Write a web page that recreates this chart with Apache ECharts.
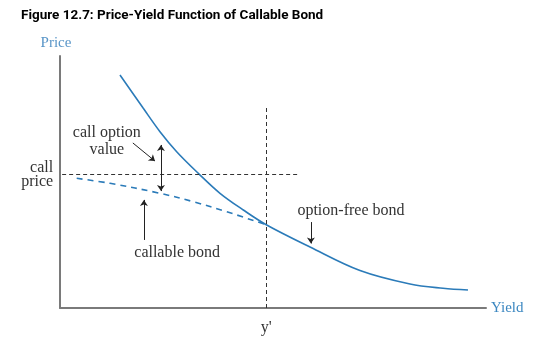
<!DOCTYPE html>
<html><head><meta charset="utf-8">
<script src="https://cdn.jsdelivr.net/npm/echarts@6/dist/echarts.min.js"></script>
<style>html,body{margin:0;padding:0;background:#fff}#c{width:541px;height:341px}</style>
</head><body><div id="c"></div>
<script>
// Option-free bond curve (yield, price) in abstract units 0..100
const optionFreeX = [14.08, 19.55, 23.47, 27.39, 32.46, 37.56, 43.03, 48.52, 58.69, 70.42, 82.16, 89.91, 95.77];
const optionFreeY = [92.46, 79.25, 69.96, 62.02, 53.45, 45.52, 38.89, 32.94, 24.21, 14.88, 9.52, 7.82, 7.14];
// Callable bond (dashed) below the call price
const callableX = [3.92, 11.74, 23.47, 31.29, 39.13, 48.52];
const callableY = [51.47, 49.48, 45.52, 42.18, 38.21, 32.94];
// Reference levels
const callPrice = 53.2;
const callPriceEndX = 55.9;
const yPrime = 48.52;
const yPrimeTop = 79.8;

const BLUE = '#2b7bb9';
const TEXT = '#333';
const SERIF = '"Liberation Serif", "DejaVu Serif", serif';

const chart = echarts.init(document.getElementById('c'));
const pair = (xs, ys) => xs.map((x, i) => [x, ys[i]]);

chart.setOption({
  animation: false,
  grid: {left: 60, right: 55, top: 56, bottom: 33},
  xAxis: {type: 'value', min: 0, max: 100, axisLine: {lineStyle: {color: '#7a7a7a', width: 2}},
    axisTick: {show: false}, axisLabel: {show: false}, splitLine: {show: false}},
  yAxis: {type: 'value', min: 0, max: 100, axisLine: {show: true, lineStyle: {color: '#7a7a7a', width: 2}},
    axisTick: {show: false}, axisLabel: {show: false}, splitLine: {show: false}},
  series: [
    {type: 'line', data: pair(optionFreeX, optionFreeY), smooth: 0.35, showSymbol: false,
      lineStyle: {color: BLUE, width: 1.6}, z: 3},
    {type: 'line', data: pair(callableX, callableY), smooth: 0.35, showSymbol: false,
      lineStyle: {color: BLUE, width: 1.6, type: [6, 5]}, z: 3},
    {type: 'line', data: [], silent: true,
      markLine: {silent: true, animation: false, label: {show: false},
        lineStyle: {color: '#333', width: 1, type: [4, 3]}, symbol: 'none',
        data: [
          [{coord: [0.5, callPrice]}, {coord: [callPriceEndX, callPrice]}],
          [{coord: [yPrime, 0]}, {coord: [yPrime, yPrimeTop]}]
        ]}},
    {type: 'line', data: [], silent: true,
      markLine: {silent: true, animation: false, label: {show: false},
        lineStyle: {color: '#222', width: 1, type: 'solid'}, symbolSize: 6,
        data: [
          [{coord: [23.7, 64.7], symbol: 'arrow'}, {coord: [23.7, 46.4], symbol: 'arrow'}],
          [{coord: [17.1, 65.5], symbol: 'none'}, {coord: [22.3, 58.3], symbol: 'arrow'}],
          [{coord: [19.7, 27.0], symbol: 'none'}, {coord: [19.7, 42.9], symbol: 'arrow'}],
          [{coord: [58.9, 34.1], symbol: 'none'}, {coord: [58.9, 25.6], symbol: 'arrow'}]
        ]}}
  ]
});

const labels = [
  {t: 'call option', x: 11.0, y: 69.4, a: 'center'},
  {t: 'value', x: 11.0, y: 62.7, a: 'center'},
  {t: 'call', x: -1.6, y: 55.6, a: 'right'},
  {t: 'price', x: -1.6, y: 50.0, a: 'right'},
  {t: 'callable bond', x: 27.5, y: 21.8, a: 'center'},
  {t: 'option-free bond', x: 68.3, y: 38.5, a: 'center'},
  {t: "y'", x: 48.4, y: -7.9, a: 'center'}
];
const g = labels.map(l => {
  const p = chart.convertToPixel({gridIndex: 0}, [l.x, l.y]);
  return {type: 'text', x: p[0], y: p[1], style: {text: l.t, fill: TEXT, font: '16px ' + SERIF, align: l.a, verticalAlign: 'middle'}};
});
g.push({type: 'text', x: 56, y: 43, style: {text: 'Price', fill: '#5a96c8', font: '15px ' + SERIF, align: 'center', verticalAlign: 'middle'}});
g.push({type: 'text', x: 491, y: 308, style: {text: 'Yield', fill: '#3a86c0', font: '15px ' + SERIF, align: 'left', verticalAlign: 'middle'}});
g.push({type: 'text', x: 21, y: 16, style: {text: 'Figure 12.7: Price-Yield Function of Callable Bond', fill: '#000', font: 'bold 13.5px Roboto, "Open Sans", sans-serif', align: 'left', verticalAlign: 'middle'}});
chart.setOption({graphic: g});
</script></body></html>
